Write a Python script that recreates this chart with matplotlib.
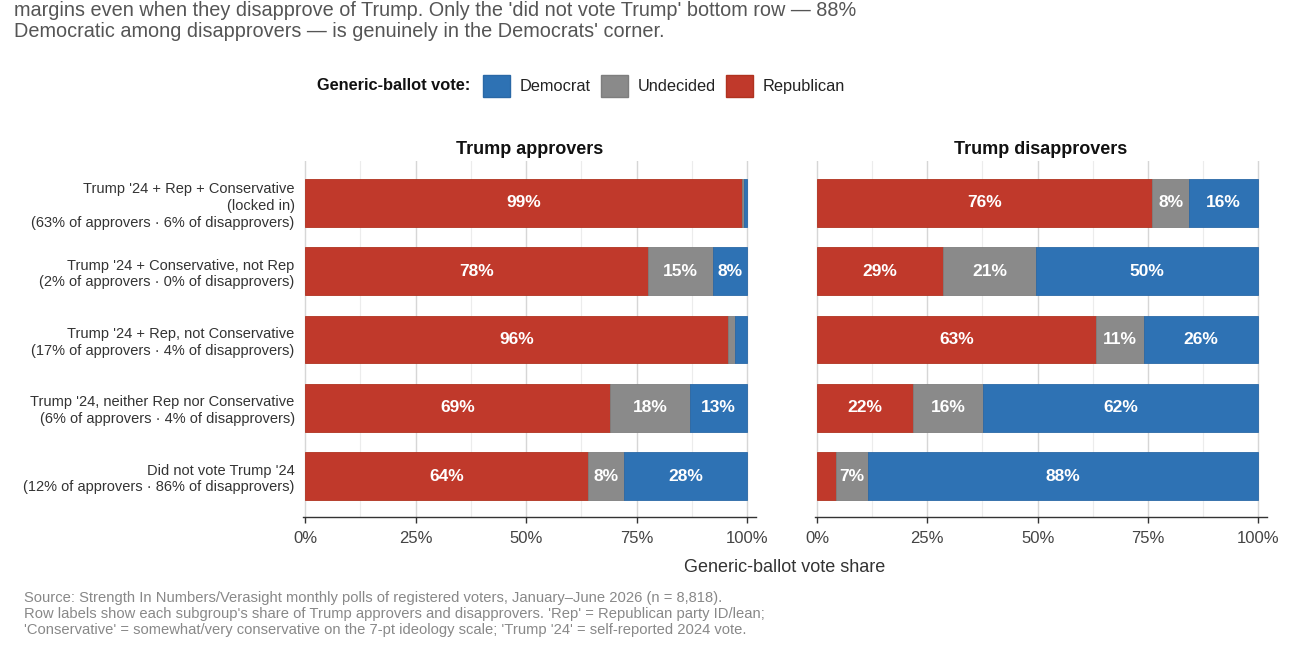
import matplotlib
matplotlib.use("Agg")
import matplotlib.pyplot as plt
from matplotlib.patches import Patch
from matplotlib.ticker import FixedLocator

plt.rcParams['font.family'] = ['Liberation Sans', 'DejaVu Sans']

# ---------------- data ----------------
row_labels = [
    "Trump '24 + Rep + Conservative\n(locked in)\n(63% of approvers \u00b7 6% of disapprovers)",
    "Trump '24 + Conservative, not Rep\n(2% of approvers \u00b7 0% of disapprovers)",
    "Trump '24 + Rep, not Conservative\n(17% of approvers \u00b7 4% of disapprovers)",
    "Trump '24, neither Rep nor Conservative\n(6% of approvers \u00b7 4% of disapprovers)",
    "Did not vote Trump '24\n(12% of approvers \u00b7 86% of disapprovers)",
]
panel_titles = ["Trump approvers", "Trump disapprovers"]
series_names = ["Democrat", "Undecided", "Republican"]

approvers_rep = [98.8, 77.6, 95.7, 69.0, 64.0]
approvers_und = [0.4, 14.6, 1.6, 18.1, 8.2]
approvers_dem = [0.8, 7.8, 2.7, 12.9, 27.8]

disapprovers_rep = [76.0, 28.6, 63.3, 21.8, 4.2]
disapprovers_und = [8.4, 21.1, 10.8, 15.8, 7.4]
disapprovers_dem = [15.6, 50.3, 25.9, 62.4, 88.4]

x_ticks = [0, 25, 50, 75, 100]
x_tick_labels = ["0%", "25%", "50%", "75%", "100%"]

subtitle = ("margins even when they disapprove of Trump. Only the 'did not vote Trump' bottom row \u2014 88%\n"
            "Democratic among disapprovers \u2014 is genuinely in the Democrats' corner.")
caption = ("Source: Strength In Numbers/Verasight monthly polls of registered voters, January\u2013June 2026 (n = 8,818).\n"
           "Row labels show each subgroup's share of Trump approvers and disapprovers. 'Rep' = Republican party ID/lean;\n"
           "'Conservative' = somewhat/very conservative on the 7-pt ideology scale; 'Trump '24' = self-reported 2024 vote.")

# ---------------- style ----------------
C_DEM = "#2e72b4"
C_UND = "#8a8a8a"
C_REP = "#c0392b"
E_DEM = "#2a68a6"
E_UND = "#7e7e7e"
E_REP = "#b0321f"

W, H = 1300, 650
fig = plt.figure(figsize=(13, 6.5), dpi=100)

def ax_rect(x0, x1, ytop, ybot):
    return [x0 / W, (H - ybot) / H, (x1 - x0) / W, (ybot - ytop) / H]

axL = fig.add_axes(ax_rect(303, 756, 161, 517))
axR = fig.add_axes(ax_rect(815, 1267, 161, 517))

panels = [
    (axL, approvers_rep, approvers_und, approvers_dem),
    (axR, disapprovers_rep, disapprovers_und, disapprovers_dem),
]

ypos = list(range(len(row_labels)))
bar_h = 0.70

for i, (ax, rep, und, dem) in enumerate(panels):
    left_und = [r for r in rep]
    left_dem = [r + u for r, u in zip(rep, und)]
    ax.barh(ypos, rep, height=bar_h, left=0, color=C_REP, edgecolor=E_REP, linewidth=0.6, zorder=3)
    ax.barh(ypos, und, height=bar_h, left=left_und, color=C_UND, edgecolor=E_UND, linewidth=0.6, zorder=3)
    ax.barh(ypos, dem, height=bar_h, left=left_dem, color=C_DEM, edgecolor=E_DEM, linewidth=0.6, zorder=3)
    for y in ypos:
        segs = [(0, rep[y]), (left_und[y], und[y]), (left_dem[y], dem[y])]
        for start, val in segs:
            if val >= 5:
                ax.text(start + val / 2, y, f"{round(val):d}%", ha="center", va="center",
                        color="white", fontsize=12.5, fontweight="bold", zorder=4)
    ax.set_xlim(-0.45, 102.0)
    ax.set_ylim(len(row_labels) - 1 + 0.6, -0.615)
    ax.xaxis.set_major_locator(FixedLocator(x_ticks))
    ax.xaxis.set_minor_locator(FixedLocator([12.5, 37.5, 62.5, 87.5]))
    ax.set_xticklabels(x_tick_labels)
    ax.grid(axis="x", which="major", color="#d6d6d6", linewidth=1.0, zorder=0)
    ax.grid(axis="x", which="minor", color="#ececec", linewidth=0.8, zorder=0)
    ax.grid(axis="y", visible=False)
    for s in ["top", "right", "left"]:
        ax.spines[s].set_visible(False)
    ax.spines["bottom"].set_color("#333333")
    ax.spines["bottom"].set_linewidth(1.0)
    ax.tick_params(axis="x", which="major", length=4, width=1.0, color="#333333",
                   labelsize=12, labelcolor="#444444", pad=6)
    ax.tick_params(axis="x", which="minor", length=0)
    ax.tick_params(axis="y", length=0)
    ax.set_yticks(ypos)
    if i == 0:
        ax.set_yticklabels(row_labels, fontsize=10.5, color="#333333", ha="right",
                           linespacing=1.25)
        ax.tick_params(axis="y", pad=6)
    else:
        ax.set_yticklabels([])
    ax.set_title(panel_titles[i], fontsize=13, fontweight="bold", color="#111111", pad=5)

# x-axis label
fig.text(785 / W, 1 - 567 / H, "Generic-ballot vote share", ha="center", va="center",
         fontsize=13, color="#333333")

# subtitle
fig.text(14 / W, 1 - 1 / H, subtitle, ha="left", va="top", fontsize=14.3, color="#555555",
         linespacing=1.15)

# caption
fig.text(24 / W, 1 - 591 / H, caption, ha="left", va="top", fontsize=10.6, color="#888888",
         linespacing=1.2)

# legend
fig.text(470 / W, 1 - 86 / H, "Generic-ballot vote:", ha="right", va="center",
         fontsize=11.8, fontweight="bold", color="#111111")
handles = [Patch(facecolor=C_DEM, edgecolor=E_DEM),
           Patch(facecolor=C_UND, edgecolor=E_UND),
           Patch(facecolor=C_REP, edgecolor=E_REP)]
fig.legend(handles, series_names, loc="center left", bbox_to_anchor=(483 / W, 1 - 86 / H),
           ncol=3, frameon=False, fontsize=11.8, handlelength=1.65, handleheight=1.65,
           handletextpad=0.6, columnspacing=0.6, borderaxespad=0, borderpad=0,
           labelcolor="#222222")

fig.savefig("out.png", dpi=100, facecolor="white")
